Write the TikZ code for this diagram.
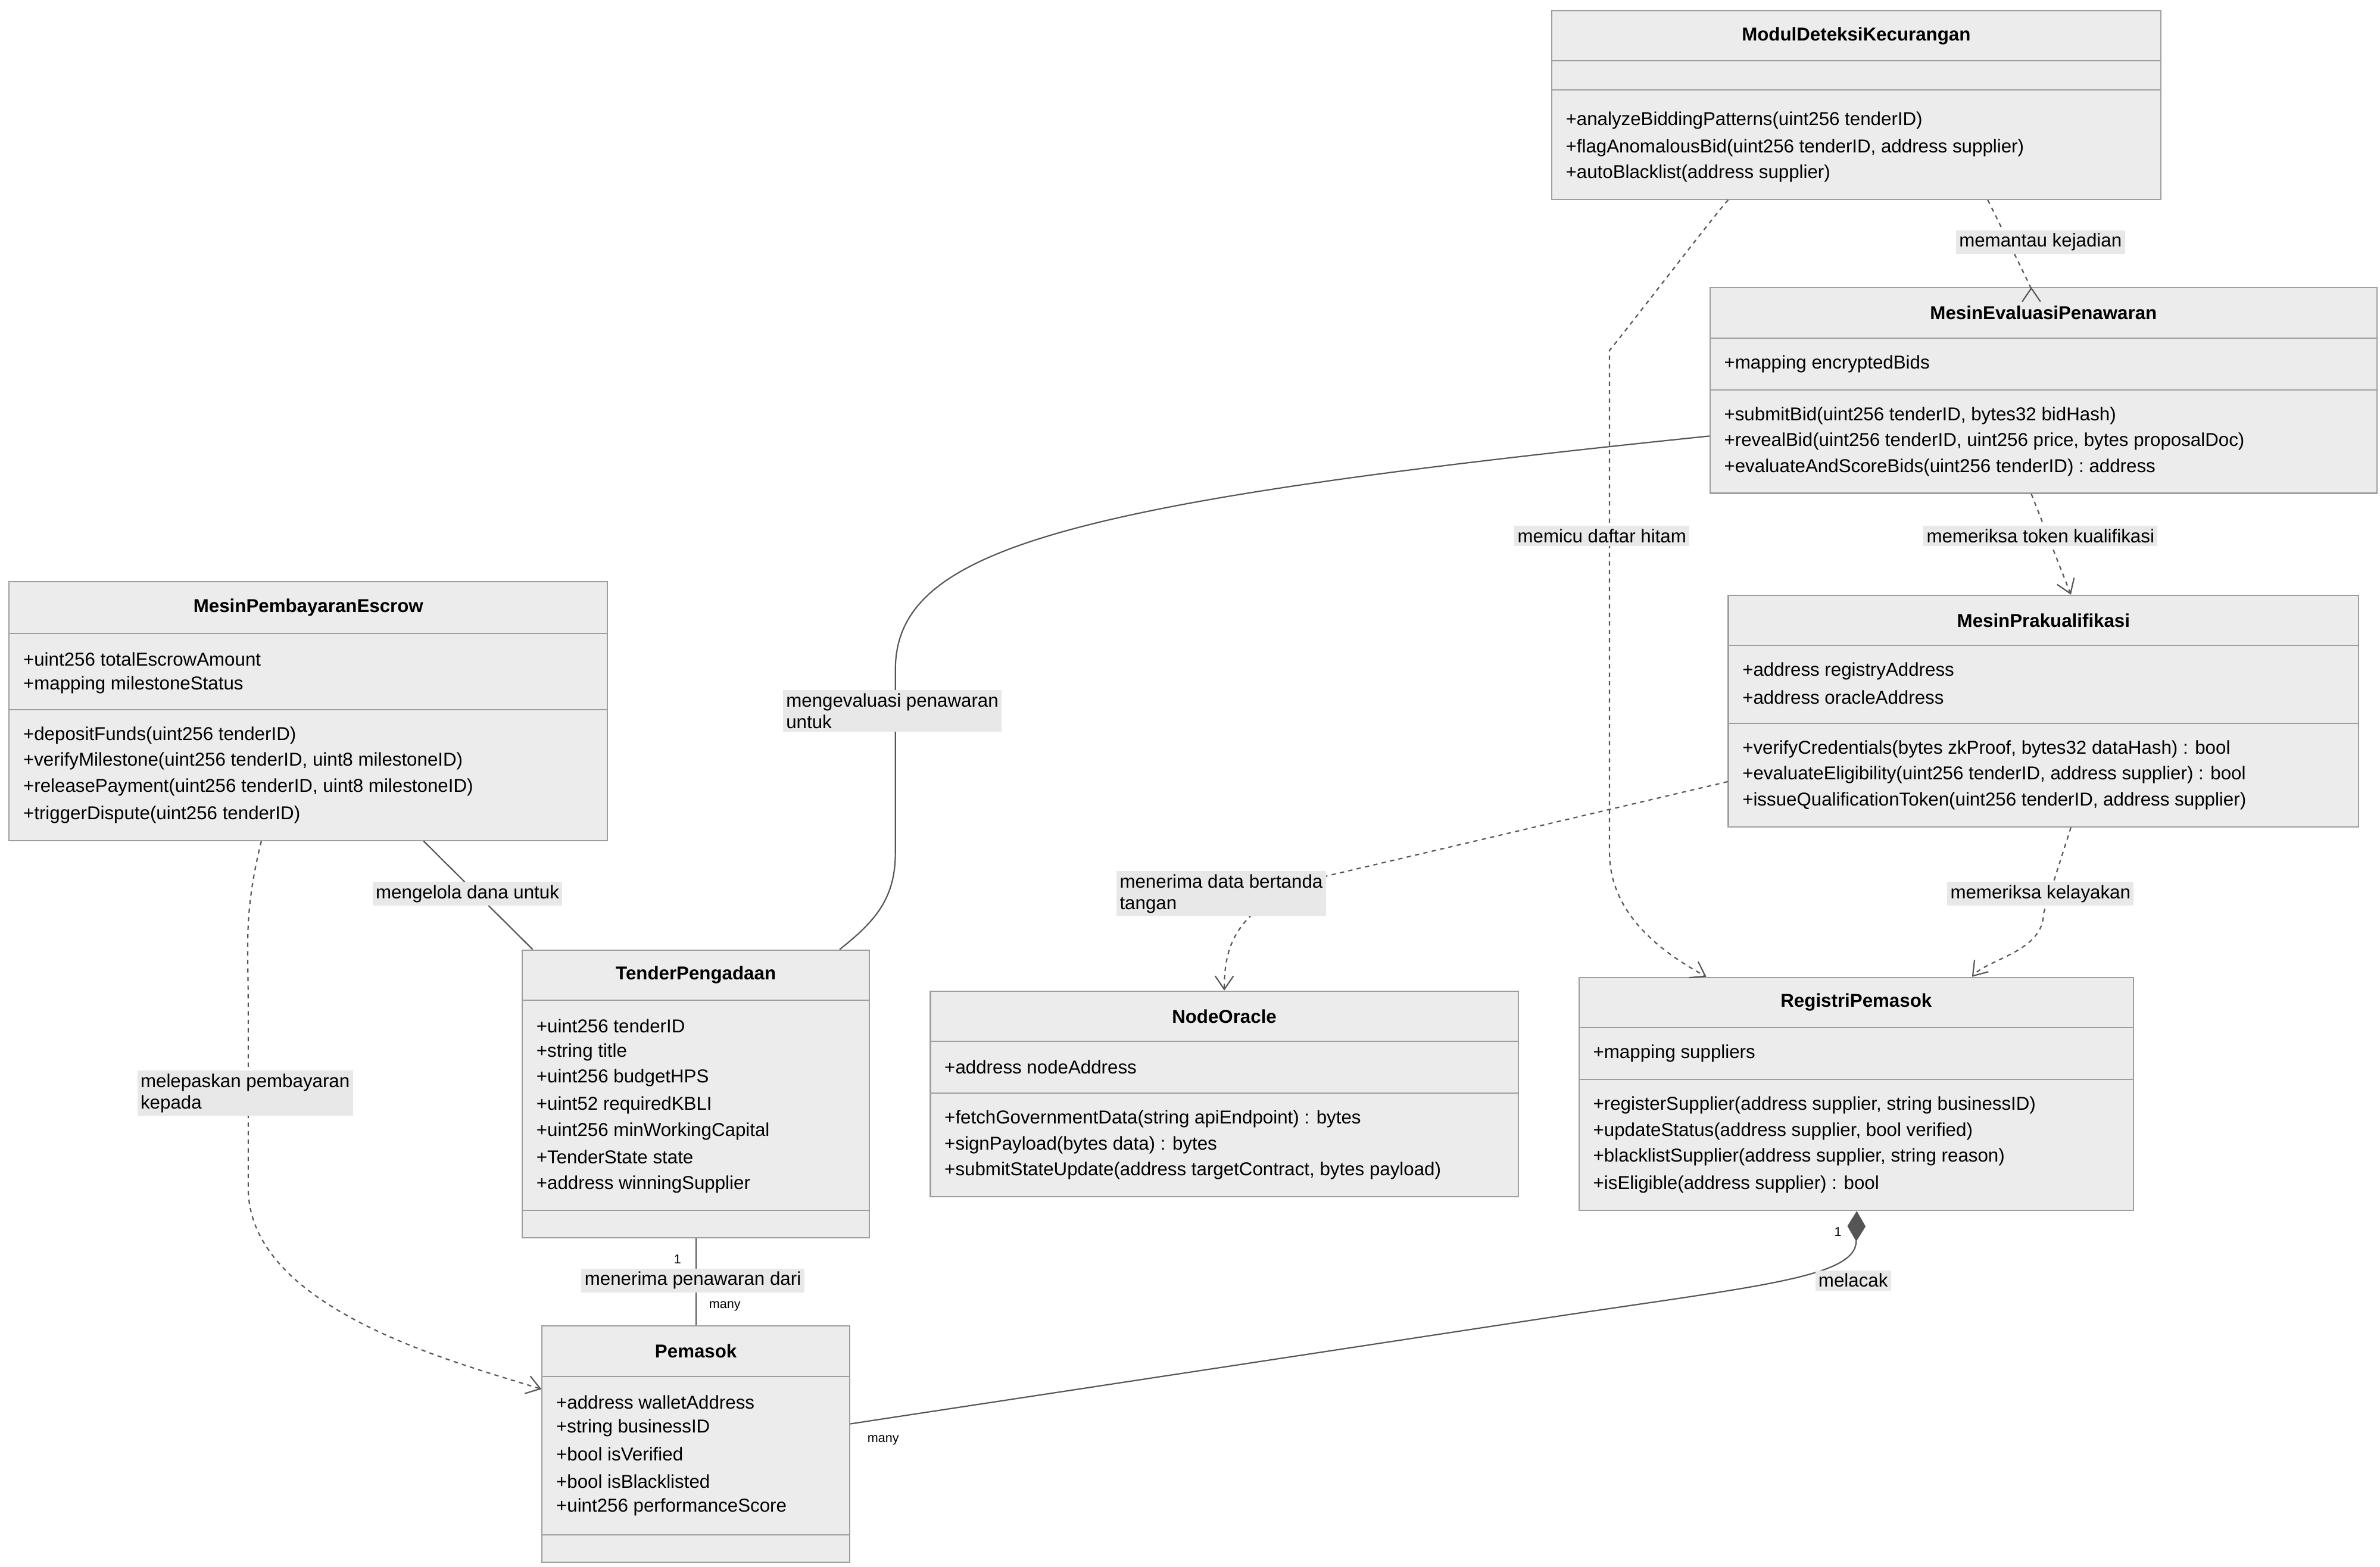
\documentclass[tikz,border=0pt]{standalone}
\usepackage{fontspec}
\setmainfont{Liberation Sans}
\usetikzlibrary{arrows.meta,fit}
\definecolor{boxfill}{HTML}{ECECEC}
\definecolor{boxline}{HTML}{9E9E9E}
\definecolor{edgeline}{HTML}{555555}
\definecolor{labelbg}{HTML}{E8E8E8}
\tikzset{>=stealth}
\tikzset{
  classbox/.style={draw=boxline, fill=boxfill, inner sep=0pt, line width=0.6pt},
  title/.style={font=\fontsize{8.7}{10}\selectfont\bfseries},
  member/.style={anchor=west, inner sep=0pt, font=\fontsize{8.7}{10}\selectfont},
  rel/.style={draw=edgeline, line width=0.6pt},
  dep/.style={rel, dashed, dash pattern=on 2pt off 2pt, -{Straight Barb[length=2.2mm,width=3mm]}},
  lbl/.style={fill=labelbg, inner sep=1.5pt, align=left, font=\fontsize{8.7}{10}\selectfont},
  mult/.style={inner sep=0pt, font=\fontsize{6}{7}\selectfont}
}
% box: name, x1, y1, x2, y2, title, title-bottom
\newcommand\umlbox[7]{%
  \node[classbox, fit={(#2,#3)(#4,#5)}] (#1) {};
  \node[title] at ({(#2+#4)/2},{(#3+#7)/2}) {#6};
  \draw[boxline, line width=0.6pt] (#2,#7) -- (#4,#7);
}
\newcommand\sep[3]{\draw[boxline, line width=0.6pt] (#1,#3) -- (#2,#3);}
\begin{document}
\begin{tikzpicture}[x=0.025cm, y=-0.025cm]
        \useasboundingbox (0,0) rectangle (1563,1029);

        % Classes
        \umlbox{modul}{1019}{7}{1419}{131}{ModulDeteksiKecurangan}{40}
        \sep{1019}{1419}{59}
        \node[member] at (1028,79) {+analyzeBiddingPatterns(uint256 tenderID)};
        \node[member] at (1028,97) {+flagAnomalousBid(uint256 tenderID, address supplier)};
        \node[member] at (1028,114) {+autoBlacklist(address supplier)};

        \umlbox{eval}{1123}{189}{1561}{324}{MesinEvaluasiPenawaran}{222}
        \sep{1123}{1561}{256}
        \node[member] at (1132,239) {+mapping encryptedBids};
        \node[member] at (1132,273) {+submitBid(uint256 tenderID, bytes32 bidHash)};
        \node[member] at (1132,290) {+revealBid(uint256 tenderID, uint256 price, bytes proposalDoc)};
        \node[member] at (1132,307) {+evaluateAndScoreBids(uint256 tenderID) : address};

        \umlbox{prak}{1135}{391}{1549}{543}{MesinPrakualifikasi}{424}
        \sep{1135}{1549}{475}
        \node[member] at (1144,441) {+address registryAddress};
        \node[member] at (1144,458) {+address oracleAddress};
        \node[member] at (1144,492) {+verifyCredentials(bytes zkProof, bytes32 dataHash) : bool};
        \node[member] at (1144,509) {+evaluateEligibility(uint256 tenderID, address supplier) : bool};
        \node[member] at (1144,526) {+issueQualificationToken(uint256 tenderID, address supplier)};

        \umlbox{escrow}{6}{382}{399}{552}{MesinPembayaranEscrow}{416}
        \sep{6}{399}{466}
        \node[member] at (15,433) {+uint256 totalEscrowAmount};
        \node[member] at (15,450) {+mapping milestoneStatus};
        \node[member] at (15,483) {+depositFunds(uint256 tenderID)};
        \node[member] at (15,500) {+verifyMilestone(uint256 tenderID, uint8 milestoneID)};
        \node[member] at (15,517) {+releasePayment(uint256 tenderID, uint8 milestoneID)};
        \node[member] at (15,535) {+triggerDispute(uint256 tenderID)};

        \umlbox{tender}{343}{624}{571}{813}{TenderPengadaan}{657}
        \sep{343}{571}{795}
        \node[member] at (352,674) {+uint256 tenderID};
        \node[member] at (352,691) {+string title};
        \node[member] at (352,708) {+uint256 budgetHPS};
        \node[member] at (352,726) {+uint52 requiredKBLI};
        \node[member] at (352,743) {+uint256 minWorkingCapital};
        \node[member] at (352,760) {+TenderState state};
        \node[member] at (352,778) {+address winningSupplier};

        \umlbox{oracle}{611}{651}{997}{786}{NodeOracle}{684}
        \sep{611}{997}{718}
        \node[member] at (620,701) {+address nodeAddress};
        \node[member] at (620,735) {+fetchGovernmentData(string apiEndpoint) : bytes};
        \node[member] at (620,752) {+signPayload(bytes data) : bytes};
        \node[member] at (620,769) {+submitStateUpdate(address targetContract, bytes payload)};

        \umlbox{registri}{1037}{642}{1401}{795}{RegistriPemasok}{675}
        \sep{1037}{1401}{709}
        \node[member] at (1046,692) {+mapping suppliers};
        \node[member] at (1046,726) {+registerSupplier(address supplier, string businessID)};
        \node[member] at (1046,743) {+updateStatus(address supplier, bool verified)};
        \node[member] at (1046,760) {+blacklistSupplier(address supplier, string reason)};
        \node[member] at (1046,778) {+isEligible(address supplier) : bool};

        \umlbox{pemasok}{356}{871}{558}{1026}{Pemasok}{904}
        \sep{356}{558}{1008}
        \node[member] at (365,921) {+address walletAddress};
        \node[member] at (365,938) {+string businessID};
        \node[member] at (365,955) {+bool isVerified};
        \node[member] at (365,973) {+bool isBlacklisted};
        \node[member] at (365,990) {+uint256 performanceScore};

        % Relations
        \draw[dep] ([xshift=-2.85cm]modul.south east) .. controls +(0,-0.35) and +(0,0.7) .. ([xshift=-0.2cm]eval.north);
        \draw[dep] ([xshift=-2.1cm]modul.south) .. controls +(-1.2,-0.5) and +(0,1.2) .. (1057,230) -- (1057,560) .. controls (1057,605) and (1100,630) .. ([xshift=2.1cm]registri.north west);
        \draw[dep] ([xshift=-0.2cm]eval.south) -- ([xshift=0.45cm]prak.north);
        \draw[dep] ([xshift=0.45cm]prak.south) -- (1342,600) .. controls (1342,625) and (1305,630) .. ([xshift=1.9cm]registri.north);
        \draw[dep] ([yshift=0.75cm]prak.south west) -- (860,578) .. controls (812,598) and (804,620) .. (oracle.north);
        \draw[rel] ([yshift=0.95cm]eval.south west) .. controls (700,330) and (588,360) .. (588,440) -- (588,560) .. controls (588,590) and (575,605) .. ([xshift=-0.5cm]tender.north east);
        \draw[rel] ([xshift=-3.03cm]escrow.south east) -- ([xshift=0.18cm]tender.north west);
        \draw[dep] ([xshift=4.15cm]escrow.south west) .. controls (160,600) and (163,620) .. (163,660) -- (163,780) .. controls (163,860) and (300,895) .. ([yshift=2.85cm]pemasok.south west);
        \draw[rel] (tender.south) -- (pemasok.north);
        \draw[rel, {Diamond[length=5mm,width=3mm,fill=edgeline]}-] ([xshift=-4.55cm]registri.south east) -- (1219,815) .. controls (1219,840) and (1150,845) .. (1000,868) -- ([yshift=2.28cm]pemasok.south east);

        % Labels
        \node[lbl] (l1) at (1340,159) {memantau kejadian};
        \node[lbl] (l2) at (1052,352) {memicu daftar hitam};
        \node[lbl] (l3) at (1340,352) {memeriksa token kualifikasi};
        \node[lbl] (l4) at (1340,587) {memeriksa kelayakan};
        \node[lbl] (l5) at (802,587) {menerima data bertanda\\tangan};
        \node[lbl] (l6) at (586,467) {mengevaluasi penawaran\\untuk};
        \node[lbl] (l7) at (307,587) {mengelola dana untuk};
        \node[lbl] (l8) at (161,718) {melepaskan pembayaran\\kepada};
        \node[lbl] (l9) at (455,841) {menerima penawaran dari};
        \node[lbl] (l10) at (1217,841) {melacak};
        \node[mult] at (445,827) {1};
        \node[mult] at (476,858) {many};
        \node[mult] at (1207,809) {1};
        \node[mult] at (580,946) {many};
\end{tikzpicture}
\end{document}
